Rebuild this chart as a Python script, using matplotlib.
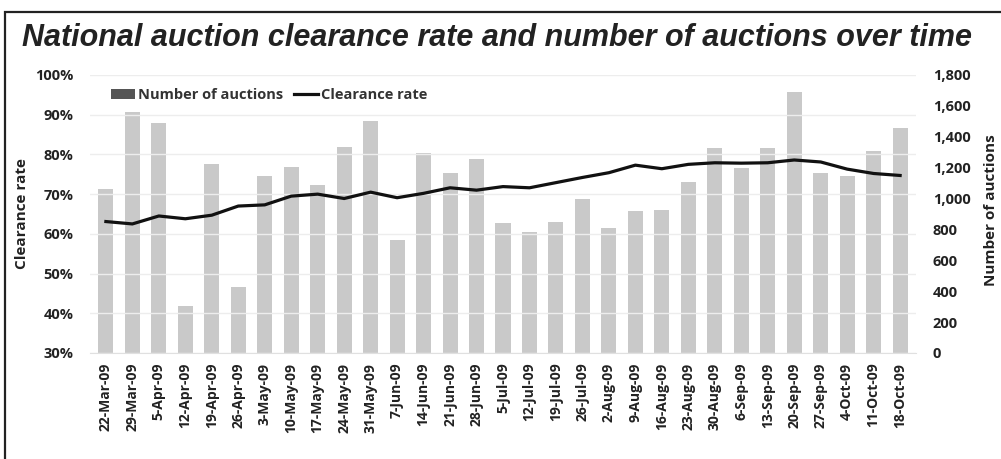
import numpy as np
import matplotlib
matplotlib.use('Agg')
import matplotlib.pyplot as plt
from matplotlib.patches import Rectangle, Patch
from matplotlib.lines import Line2D
from matplotlib.ticker import FuncFormatter, MultipleLocator

# Data
weeks = ['22-Mar-09', '29-Mar-09', '5-Apr-09', '12-Apr-09', '19-Apr-09', '26-Apr-09',
         '3-May-09', '10-May-09', '17-May-09', '24-May-09', '31-May-09', '7-Jun-09',
         '14-Jun-09', '21-Jun-09', '28-Jun-09', '5-Jul-09', '12-Jul-09', '19-Jul-09',
         '26-Jul-09', '2-Aug-09', '9-Aug-09', '16-Aug-09', '23-Aug-09', '30-Aug-09',
         '6-Sep-09', '13-Sep-09', '20-Sep-09', '27-Sep-09', '4-Oct-09', '11-Oct-09',
         '18-Oct-09']
auctions = [1060, 1562, 1487, 306, 1222, 429, 1146, 1206, 1088, 1332, 1504, 732,
            1297, 1163, 1256, 844, 781, 848, 997, 809, 917, 923, 1107, 1327,
            1198, 1327, 1690, 1164, 1143, 1305, 1456]
clearance = [63.1, 62.5, 64.5, 63.8, 64.7, 67.0, 67.3, 69.5, 70.0, 68.9, 70.5, 69.1,
             70.2, 71.6, 71.0, 71.9, 71.6, 72.9, 74.2, 75.4, 77.3, 76.4, 77.5, 77.9,
             77.8, 77.9, 78.6, 78.1, 76.3, 75.2, 74.7]

plt.rcParams['font.family'] = ['Open Sans', 'DejaVu Sans']

fig = plt.figure(figsize=(10.01, 4.59), dpi=100)
# frame around the whole chart
fig.patches.append(Rectangle((5 / 1001, -0.05), 1.2, 1.05 - 12 / 459, transform=fig.transFigure,
                             fill=False, edgecolor='#222222', linewidth=1.6))

ax = fig.add_axes([90 / 1001, 1 - 353 / 459, 826 / 1001, 278 / 459])
ax2 = ax.twinx()

x = np.arange(len(weeks))
ax2.bar(x, auctions, width=0.57, color='#c9c9c9', zorder=2)
ax.plot(x, clearance, color='#111111', linewidth=2.3, zorder=5)

ax.set_zorder(ax2.get_zorder() + 1)
ax.patch.set_visible(False)

ax.set_ylim(30, 100)
ax.yaxis.set_major_locator(MultipleLocator(10))
ax.yaxis.set_major_formatter(FuncFormatter(lambda v, p: '%d%%' % v))
ax2.set_ylim(0, 1800)
ax2.yaxis.set_major_locator(MultipleLocator(200))
ax2.yaxis.set_major_formatter(FuncFormatter(lambda v, p: '{:,.0f}'.format(v)))
ax.set_xlim(-0.6, len(weeks) - 0.4)

ax.grid(axis='y', color='#ededed', linewidth=1)
ax.set_axisbelow(True)
for a in (ax, ax2):
    for s in a.spines.values():
        s.set_visible(False)
    a.tick_params(length=0)
ax.spines['bottom'].set_visible(True)
ax.spines['bottom'].set_color('#e0e0e0')

ax.set_xticks(x)
ax.set_xticklabels(weeks, rotation=90, fontsize=10, fontweight='bold', color='#222222')
ax.tick_params(axis='x', pad=7)
ax.tick_params(axis='y', labelsize=10.5, pad=12, labelcolor='#222222')
ax2.tick_params(axis='y', labelsize=10.5, pad=12, labelcolor='#222222')
for t in ax.get_yticklabels() + ax2.get_yticklabels():
    t.set_fontweight('bold')

ax.set_ylabel('Clearance rate', fontsize=11, fontweight='bold', labelpad=4, color='#222222')
fig.text(991 / 1001, 1 - 210 / 459, 'Number of auctions', rotation=90, fontsize=11,
         fontweight='bold', color='#222222', ha='center', va='center')

handles = [Patch(facecolor='#555555', edgecolor='none'),
           Line2D([0], [0], color='#111111', linewidth=2.3)]
leg = ax.legend(handles, ['Number of auctions', 'Clearance rate'], loc='upper left',
                bbox_to_anchor=(0.01, 1.0), ncol=2, frameon=False, fontsize=10.5,
                handlelength=1.6, handletextpad=0.2, columnspacing=0.8)
for t in leg.get_texts():
    t.set_fontweight('bold')
    t.set_color('#333333')

fig.text(22 / 1001, 1 - 38 / 459, 'National auction clearance rate and number of auctions over time',
         fontsize=22, fontweight='bold', fontstyle='italic', family='Liberation Sans',
         color='#222222', va='center', ha='left')

fig.savefig('out.png', dpi=100)
